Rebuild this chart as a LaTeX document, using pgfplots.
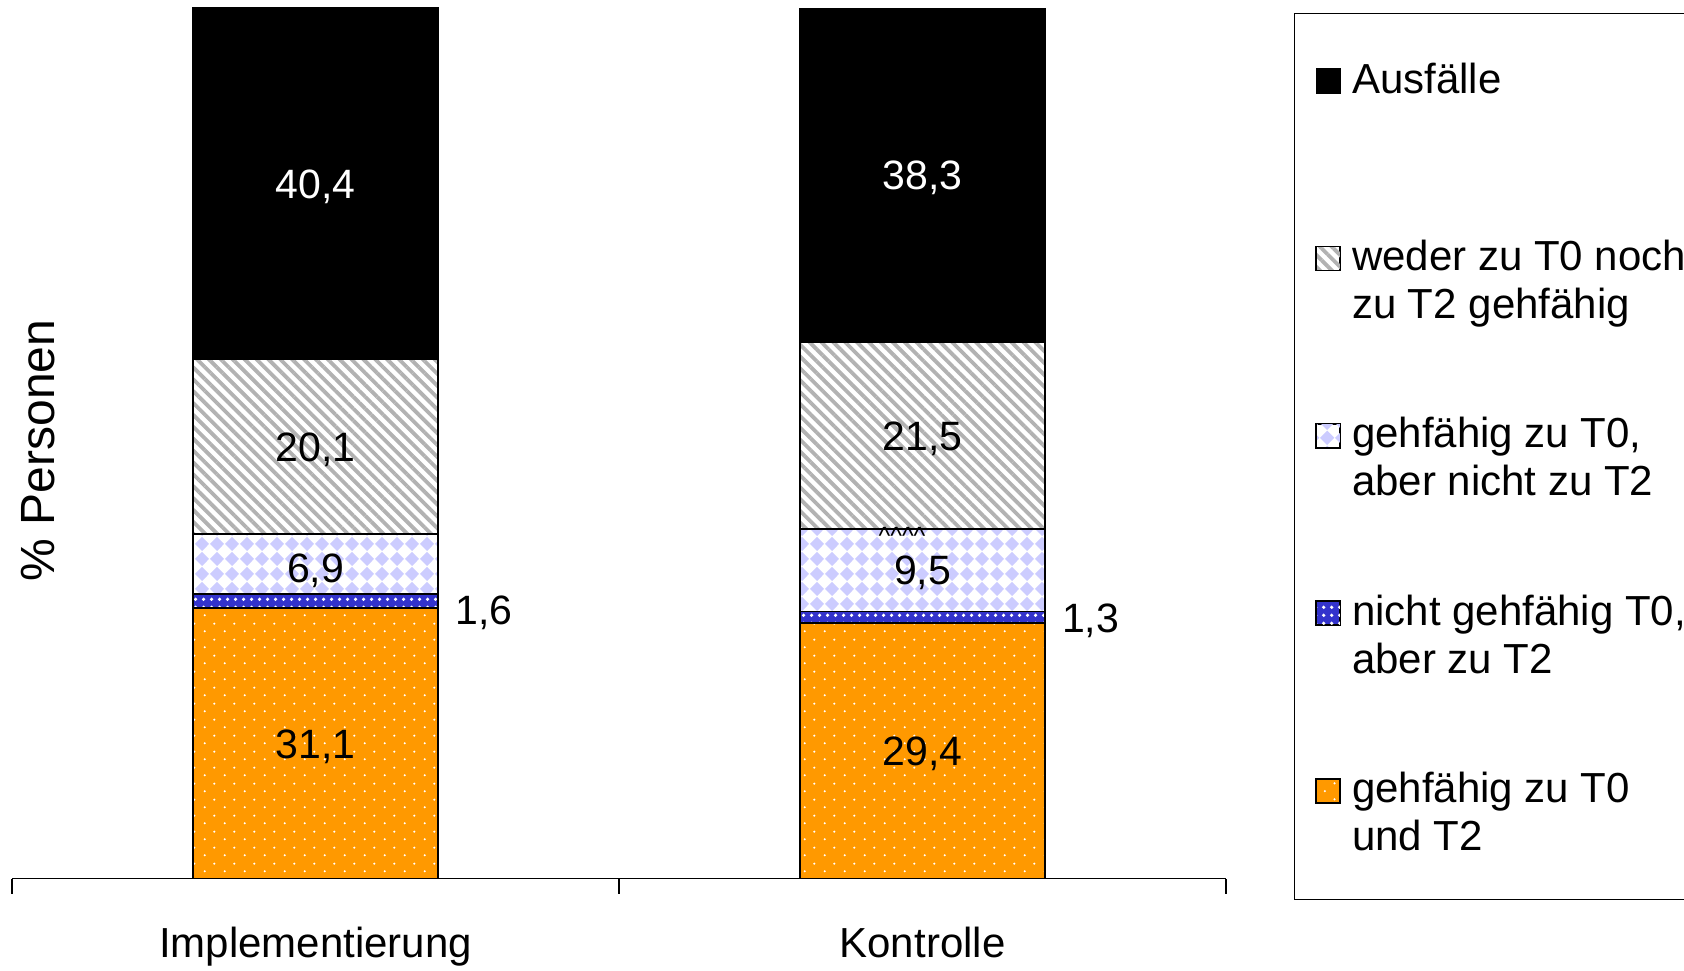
\documentclass[border=0pt]{standalone}
\usepackage{fontspec}
\setmainfont{Liberation Sans}
\usepackage{pgfplots}
\pgfplotsset{compat=1.18}
\usepackage{pgfplotstable}
\usetikzlibrary{patterns,patterns.meta}

\definecolor{myorange}{RGB}{255,153,0}
\definecolor{myblue}{RGB}{51,51,204}
\definecolor{mylav}{RGB}{204,204,255}
\definecolor{myhatch}{RGB}{178,178,178}

\tikzdeclarepattern{
  name=diamondsP, type=uncolored,
  bottom left={(0pt,0pt)}, top right={(7.5pt,7.5pt)}, tile size={(7.5pt,7.5pt)},
  code={\fill (3.75pt,0pt) -- (7.5pt,3.75pt) -- (3.75pt,7.5pt) -- (0pt,3.75pt) -- cycle;}
}
\tikzdeclarepattern{
  name=sparsedots, type=uncolored,
  bottom left={(0pt,0pt)}, top right={(10pt,8pt)}, tile size={(10pt,8pt)},
  code={\fill (2.5pt,2pt) circle (0.6pt); \fill (7.5pt,6pt) circle (0.6pt);}
}
\tikzdeclarepattern{
  name=bluedots, type=uncolored,
  bottom left={(0pt,0pt)}, top right={(4pt,4pt)}, tile size={(4pt,4pt)},
  code={\fill (2pt,2pt) circle (1pt);}
}

\pgfplotsset{sq/.style={legend image code/.code={\draw[##1,line width=0.6pt] (0pt,24pt) rectangle (12pt,36pt);}}}

\pgfplotstableread{
x a b c d e
0 31.1 1.6 6.9 20.1 40.4
1 29.4 1.3 9.5 21.5 38.3
}\data

\newcommand{\vals}{\fontsize{20.5}{24}\selectfont}

\begin{document}
\begin{tikzpicture}
\begin{axis}[
  scale only axis, width=607pt, height=435pt,
  xmin=-0.5, xmax=1.5, ymin=0, ymax=100,
  ybar stacked, bar width=122.5pt,
  clip=false,
  axis x line=bottom, axis y line=none,
  x axis line style={-, line width=0.6pt},
  xtick={0,1}, xticklabels={Implementierung,Kontrolle},
  major tick length=0pt,
  minor xtick={-0.5,0.5,1.5}, minor tick length=7.5pt,
  tick align=outside,
  xtick style={line width=0.6pt, black},
  xticklabel style={font=\fontsize{21}{24}\selectfont, anchor=base, yshift=-39.25pt, inner sep=0pt},
  legend cell align=left,
  reverse legend,
  legend style={
    at={(1.056,0.995)}, anchor=north west,
    draw=black, line width=0.6pt,
    inner xsep=10.5pt, inner ysep=21pt,
    row sep=42.4pt, column sep=3.6pt,
    font=\fontsize{21}{24}\selectfont,
    cells={anchor=base west, align=left, inner sep=0pt},
  },
]
\addplot[sq, draw=black, line width=0.9pt, preaction={fill=myorange}, pattern=sparsedots, pattern color=white] table[x=x,y=a]{\data};
\addlegendentry{gehfähig zu T0\strut\\und T2\strut}
\addplot[sq, draw=black, line width=0.9pt, preaction={fill=myblue}, pattern=bluedots, pattern color=white] table[x=x,y=b]{\data};
\addlegendentry{nicht gehfähig T0,\strut\\aber zu T2\strut}
\addplot[sq, draw=black, line width=0.9pt, preaction={fill=white}, pattern=diamondsP, pattern color=mylav] table[x=x,y=c]{\data};
\addlegendentry{gehfähig zu T0,\strut\\aber nicht zu T2\strut}
\addplot[sq, draw=black, line width=0.9pt, preaction={fill=white}, pattern={Lines[angle=-45,distance=4.2pt,line width=1.9pt]}, pattern color=myhatch] table[x=x,y=d]{\data};
\addlegendentry{weder zu T0 noch\strut\\zu T2 gehfähig\strut}
\addplot[sq, draw=black, line width=0.9pt, fill=black] table[x=x,y=e]{\data};
\addlegendentry{Ausfälle\strut\\\strut}

\coordinate (i5) at (axis cs:0,79.9);
\coordinate (i4) at (axis cs:0,49.65);
\coordinate (i3) at (axis cs:0,36.15);
\coordinate (i1) at (axis cs:0,15.55);
\coordinate (i2) at (axis cs:0,30.86);
\coordinate (k5) at (axis cs:1,80.85);
\coordinate (k4) at (axis cs:1,50.95);
\coordinate (k3) at (axis cs:1,35.45);
\coordinate (k1) at (axis cs:1,14.7);
\coordinate (k2) at (axis cs:1,30.0);
\coordinate (kc) at (axis cs:1,40.2);
\coordinate (yl) at (rel axis cs:0.0218,0.492);
\end{axis}
\begin{scope}[every node/.append style={yshift=-1.6pt}]
\node[font=\vals, text=white] at (i5) {40,4};
\node[font=\vals] at (i4) {20,1};
\node[font=\vals, yshift=-1.6pt] at (i3) {6,9};
\node[font=\vals] at (i1) {31,1};
\node[font=\vals, anchor=west, xshift=66.5pt] at (i2) {1,6};
\node[font=\vals, text=white] at (k5) {38,3};
\node[font=\vals] at (k4) {21,5};
\node[font=\vals] at (k3) {9,5};
\node[font=\vals] at (k1) {29,4};
\node[font=\vals, anchor=west, xshift=66.25pt] at (k2) {1,3};
\end{scope}
\node[font=\fontsize{12.5}{13}\selectfont, anchor=north, inner sep=0pt, xshift=-10.25pt, yshift=1pt] at (kc) {\textasciicircum\textasciicircum\textasciicircum\textasciicircum};
\node[rotate=90, font=\fontsize{24}{28}\selectfont] at (yl) {\% Personen};
\pgfresetboundingbox
\path[use as bounding box] ([shift={(-6pt,-45.75pt)}]current axis.south west) rectangle ++(842pt,485pt);
\end{tikzpicture}
\end{document}
